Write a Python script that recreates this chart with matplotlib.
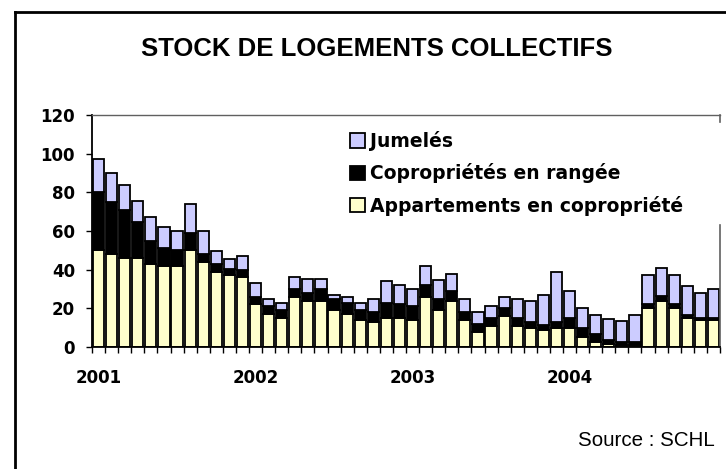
import matplotlib.pyplot as plt
import numpy as np
from matplotlib.lines import Line2D
from matplotlib.patches import Patch

plt.rcParams['font.family'] = ['Liberation Sans', 'DejaVu Sans']

# monthly stock, January 2001 -> December 2004
year_labels = ["2001", "2002", "2003", "2004"]
appartements = [50, 48, 46, 46, 43, 42, 42, 50, 44, 39, 37, 36,
                22, 17, 15, 26, 24, 24, 19, 17, 14, 13, 15, 15,
                14, 26, 19, 24, 14, 8, 11, 16, 11, 10, 9, 10,
                10, 5, 2.5, 1.5, 1, 1, 20, 24, 20, 15, 14, 14]
coproprietes = [30, 27, 25, 18.5, 12, 9, 8, 9, 4, 4, 3.5, 4,
                4, 4, 4, 4, 4, 6, 6, 6, 5, 5, 8, 7,
                7, 6, 6, 5, 4, 4, 4, 4, 4, 3, 2.5, 3,
                5, 5, 4, 2, 1.5, 1.5, 2, 2.5, 2, 1.5, 1, 1]
jumeles = [17, 15, 13, 11, 12, 11, 10, 15, 12, 6.5, 5, 7,
           7, 4, 4, 6, 7, 5, 2, 3, 4, 7, 11, 10,
           9, 10, 9.5, 9, 7, 6, 6, 6, 10, 11, 15.5, 26,
           14, 10, 10, 11, 11, 14, 15, 14.5, 15, 15, 13, 15]

months = np.arange(len(appartements))
appart = np.array(appartements)
copro = np.array(coproprietes)
jum = np.array(jumeles)

# the bold labels in the original are wide, DejaVu bold gets closer
wide_bold = dict(family="DejaVu Sans", weight="bold")

fig = plt.figure(figsize=(7.26, 4.69), dpi=100)
ax = fig.add_axes([92 / 726, 122 / 469, 628 / 726, 232 / 469])

bar_kw = dict(width=0.85, edgecolor="black", linewidth=1.3)
ax.bar(months, appart, color="#FFFFCC", **bar_kw)
ax.bar(months, copro, bottom=appart, color="#000000", **bar_kw)
ax.bar(months, jum, bottom=appart + copro, color="#CCCCFF", **bar_kw)

ax.set_ylim(0, 120)
ax.set_xlim(-0.5, len(months) - 0.5)
ax.set_yticks(np.arange(0, 121, 20))
ax.set_yticklabels([str(v) for v in range(0, 121, 20)], fontsize=12, **wide_bold)
ax.tick_params(axis="y", direction="out", length=4.3, width=1, pad=8)

# month boundaries as small ticks, year names under January
ax.set_xticks([])
ax.set_xticks(np.arange(-0.5, len(months), 1), minor=True)
ax.tick_params(axis="x", which="minor", direction="out", length=4, width=1)
for pos, label in zip(months[::12], year_labels):
    ax.text(pos, -31 / 232, label, transform=ax.get_xaxis_transform(),
            ha="center", va="center", fontsize=12, **wide_bold)

for side in ("left", "bottom"):
    ax.spines[side].set_linewidth(1.3)
ax.spines["top"].set_color("#606060")
ax.spines["top"].set_linewidth(1)
ax.spines["right"].set_visible(False)
# right edge of the plot area is hidden behind the legend box
ax.plot([1, 1], [0, 0.526], transform=ax.transAxes, color="#606060", lw=1.2, clip_on=False)
ax.plot([1, 1], [0.97, 1], transform=ax.transAxes, color="#606060", lw=1.2, clip_on=False)

handles = [Patch(facecolor="#CCCCFF", edgecolor="black", lw=1.3),
           Patch(facecolor="#000000", edgecolor="black", lw=1.3),
           Patch(facecolor="#FFFFCC", edgecolor="black", lw=1.3)]
labels = ["Jumelés", "Copropriétés en rangée", "Appartements en copropriété"]
fig.legend(handles, labels, loc="upper left", bbox_to_anchor=(350 / 726, 1 - 131 / 469),
           frameon=False, prop=dict(size=13.5, **wide_bold),
           handlelength=0.78, handleheight=0.78, handletextpad=0.3,
           labelspacing=0.66, borderpad=0, borderaxespad=0)

fig.text(377 / 726, 1 - 49 / 469, "STOCK DE LOGEMENTS COLLECTIFS",
         ha="center", va="center", fontsize=18.5, fontweight="bold")
fig.text(715 / 726, 1 - 440 / 469, "Source : SCHL", ha="right", va="center", fontsize=14.8)

# outer frame, only its left and top edges fall inside the picture
frame_x = 15 / 726
frame_y = 1 - 12 / 469
fig.add_artist(Line2D([frame_x, frame_x], [0, frame_y], color="black", lw=2))
fig.add_artist(Line2D([frame_x, 1.05], [frame_y, frame_y], color="black", lw=2))

fig.savefig("out.png", dpi=100)
